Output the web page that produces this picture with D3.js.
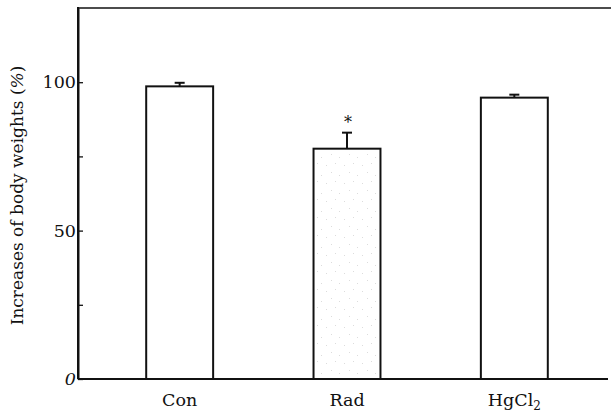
<!DOCTYPE html>
<html>
<head>
<meta charset="utf-8">
<script src="https://cdn.jsdelivr.net/npm/d3@7/dist/d3.min.js"></script>
<style>
  html, body { margin: 0; padding: 0; background: #fff; }
  svg { display: block; }
  text { font-family: "DejaVu Serif", "Liberation Serif", serif; fill: #111; }
</style>
</head>
<body>
<svg id="chart" width="611" height="412"></svg>
<script>
const categories = ["Con", "Rad", "HgCl2"];
const means = [98.6, 77.6, 94.8];
const errors = [1.2, 5.4, 1.0];
const significant = [false, true, false];
const majorTicks = [0, 50, 100];
const minorTicks = [25, 75];

const W = 611, H = 412;
const mLeft = 78, mRight = 640, mTop = 8, mBottom = 379;

const svg = d3.select("#chart");

const x = d3.scaleBand().domain(categories).range([96, 598]).paddingInner(0.6).paddingOuter(0.3);
const y = d3.scaleLinear().domain([0, 125]).range([mBottom, mTop]);

// stipple pattern for Rad bar
const defs = svg.append("defs");
const pat = defs.append("pattern").attr("id", "stipple").attr("patternUnits", "userSpaceOnUse")
  .attr("width", 18).attr("height", 18);
pat.append("rect").attr("width", 18).attr("height", 18).attr("fill", "#fff");
[[2,3],[11,1],[7,10],[15,13]].forEach(p => {
  pat.append("rect").attr("x", p[0]).attr("y", p[1]).attr("width", 1).attr("height", 1).attr("fill", "#dcdcdc");
});

// top frame line
svg.append("line").attr("x1", mLeft).attr("x2", mRight).attr("y1", mTop).attr("y2", mTop)
  .attr("stroke", "#111").attr("stroke-width", 1.6);

// bars
const g = svg.append("g");
g.selectAll("rect.bar").data(categories).join("rect")
  .attr("class", "bar")
  .attr("x", d => x(d))
  .attr("width", x.bandwidth())
  .attr("y", (d, i) => y(means[i]))
  .attr("height", (d, i) => y(0) - y(means[i]))
  .attr("fill", (d, i) => significant[i] ? "url(#stipple)" : "#fff")
  .attr("stroke", "#111").attr("stroke-width", 2);

// error bars
g.selectAll("line.err").data(categories).join("line")
  .attr("class", "err")
  .attr("x1", d => x(d) + x.bandwidth() / 2).attr("x2", d => x(d) + x.bandwidth() / 2)
  .attr("y1", (d, i) => y(means[i])).attr("y2", (d, i) => y(means[i] + errors[i]))
  .attr("stroke", "#111").attr("stroke-width", 2);
g.selectAll("line.cap").data(categories).join("line")
  .attr("class", "cap")
  .attr("x1", d => x(d) + x.bandwidth() / 2 - 5).attr("x2", d => x(d) + x.bandwidth() / 2 + 5)
  .attr("y1", (d, i) => y(means[i] + errors[i])).attr("y2", (d, i) => y(means[i] + errors[i]))
  .attr("stroke", "#111").attr("stroke-width", 2);

// significance asterisk
g.selectAll("text.sig").data(categories.filter((d, i) => significant[i])).join("text")
  .attr("class", "sig")
  .attr("x", d => x(d) + x.bandwidth() / 2 + 1)
  .attr("y", d => y(means[categories.indexOf(d)] + errors[categories.indexOf(d)]) - 5)
  .attr("text-anchor", "middle")
  .style("font-size", "16px")
  .text("*");

// y axis
const yAxis = svg.append("g").attr("transform", `translate(${mLeft},0)`)
  .call(d3.axisLeft(y).tickValues(majorTicks).tickSizeInner(-5).tickSizeOuter(0).tickPadding(4));
yAxis.select(".domain").attr("stroke", "#111").attr("stroke-width", 2);
yAxis.selectAll(".tick line").attr("stroke", "#111").attr("stroke-width", 1.3);
yAxis.selectAll(".tick text").style("font-size", "17.5px").attr("fill", "#111")
  .attr("x", -2)
  .style("font-style", d => d === 0 ? "italic" : "normal");
const yMinor = svg.append("g").attr("transform", `translate(${mLeft},0)`)
  .call(d3.axisLeft(y).tickValues(minorTicks).tickSizeInner(-5).tickSizeOuter(0).tickFormat(""));
yMinor.select(".domain").remove();
yMinor.selectAll(".tick line").attr("stroke", "#111").attr("stroke-width", 1.3);
svg.append("line").attr("x1", mLeft).attr("x2", mLeft).attr("y1", mTop - 1).attr("y2", mBottom)
  .attr("stroke", "#111").attr("stroke-width", 2);

// x axis
const xAxis = svg.append("g").attr("transform", `translate(0,${mBottom})`)
  .call(d3.axisBottom(x).tickSize(0).tickPadding(13).tickFormat(""));
xAxis.select(".domain").remove();
svg.append("line").attr("x1", mLeft).attr("x2", 608).attr("y1", mBottom).attr("y2", mBottom)
  .attr("stroke", "#111").attr("stroke-width", 2);
xAxis.selectAll(".tick").each(function(d) {
  const t = d3.select(this).append("text")
    .attr("y", 27).attr("text-anchor", "middle").style("font-size", "17.5px").attr("fill", "#111");
  if (d === "HgCl2") {
    t.append("tspan").text("HgCl");
    t.append("tspan").text("2").attr("dy", 4).style("font-size", "12px");
  } else {
    t.text(d);
  }
});

// y label
const yl = svg.append("text")
  .attr("transform", `translate(23,${(mTop + mBottom) / 2 + 2}) rotate(-90)`)
  .attr("text-anchor", "middle")
  .style("font-size", "17px");
yl.append("tspan").text("Increases of body weights (");
yl.append("tspan").text("%").style("font-style", "italic");
yl.append("tspan").text(")");
</script>
</body>
</html>
